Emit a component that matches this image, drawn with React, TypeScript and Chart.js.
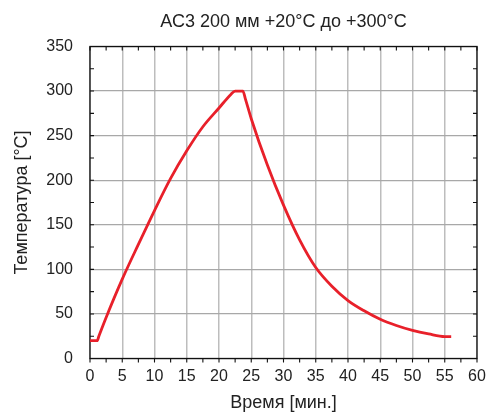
import React, { useEffect, useRef } from "react";
import { Chart, registerables } from "chart.js";

Chart.register(...registerables);

const chartTitle = "АС3 200 мм +20°C до +300°C";
const xAxisTitle = "Время [мин.]";
const yAxisTitle = "Температура [°C]";

const timeMin = [0, 1.1, 1.4, 2.5, 5, 7.5, 10, 12.5, 15, 17.5, 20, 21.8, 22.5, 23.7, 24.1, 25, 27.5, 30, 32.5, 35, 37.5, 40, 42.5, 45, 47.5, 50, 52.5, 55, 56];
const tempC = [20, 20, 25.5, 46, 89, 128, 166, 202, 233, 260, 281, 296, 300, 300, 291, 269, 217, 172, 133, 102, 81, 65, 53.5, 44, 37, 31.5, 27.5, 24.5, 24.5];

const xMin = 0, xMax = 60, xStep = 5, xMinor = 2.5;
const yMin = 0, yMax = 350, yStep = 50, yMinor = 25;

const FONT = "'Liberation Sans', Arial, Helvetica, sans-serif";
const TEXT = "#222";

const framePlugin = {
  id: "frame",
  beforeDatasetsDraw(chart: any) {
    const { ctx, chartArea: a, scales } = chart;
    const xs = scales.x, ys = scales.y;
    ctx.save();
    ctx.strokeStyle = "#111";
    ctx.lineWidth = 1.3;
    ctx.strokeRect(a.left, a.top, a.right - a.left, a.bottom - a.top);
    ctx.lineWidth = 1.1;
    const L = 4;
    ctx.beginPath();
    for (let v = xMin; v <= xMax + 1e-6; v += xMinor) {
      const px = xs.getPixelForValue(v);
      ctx.moveTo(px, a.bottom);
      ctx.lineTo(px, a.bottom + L);
      ctx.moveTo(px, a.top);
      ctx.lineTo(px, a.top + L);
    }
    for (let v = yMin; v <= yMax + 1e-6; v += yMinor) {
      const py = ys.getPixelForValue(v);
      ctx.moveTo(a.left, py);
      ctx.lineTo(a.left + L, py);
      ctx.moveTo(a.right, py);
      ctx.lineTo(a.right - L, py);
    }
    ctx.stroke();
    ctx.restore();
  },
};

export default function App() {
  const ref = useRef<HTMLCanvasElement>(null);
  useEffect(() => {
    if (!ref.current) return;
    const chart = new Chart(ref.current, {
      type: "line",
      data: {
        datasets: [
          {
            data: timeMin.map((t, i) => ({ x: t, y: tempC[i] })),
            borderColor: "#e8202a",
            borderWidth: 2.8,
            pointRadius: 0,
            fill: false,
            cubicInterpolationMode: "monotone",
          },
        ],
      },
      options: {
        responsive: false,
        animation: false,
        devicePixelRatio: 1,
        layout: { padding: { top: 0, right: 10, bottom: 0, left: 0 }, autoPadding: false },
        plugins: {
          legend: { display: false },
          tooltip: { enabled: false },
          title: {
            display: true,
            text: chartTitle,
            fullSize: false,
            color: TEXT,
            font: { family: FONT, size: 18, weight: "normal" },
            padding: { top: 11, bottom: 13.9 },
          },
        },
        scales: {
          x: {
            type: "linear",
            min: xMin,
            max: xMax,
            afterFit: (s: any) => { s.height = 55.5; s.paddingLeft = 0; s.paddingRight = 0; },
            ticks: { stepSize: xStep, color: TEXT, font: { family: FONT, size: 16 }, padding: 8, maxRotation: 0 },
            grid: { color: "#bdbdbd", lineWidth: 1.5, drawTicks: false },
            border: { display: false },
            title: { display: true, text: xAxisTitle, color: TEXT, font: { family: FONT, size: 18 }, padding: { top: 0, bottom: 0 } },
          },
          y: {
            type: "linear",
            min: yMin,
            max: yMax,
            afterFit: (s: any) => { s.width = 90; s.paddingTop = 0; s.paddingBottom = 0; },
            ticks: { stepSize: yStep, color: TEXT, font: { family: FONT, size: 16 }, padding: 17 },
            grid: { color: "#a8a8a8", lineWidth: 1.3, drawTicks: false },
            border: { display: false },
            title: { display: true, text: yAxisTitle, color: TEXT, font: { family: FONT, size: 18 }, padding: { top: 11.5, bottom: 0 } },
          },
        },
      },
      plugins: [framePlugin],
    } as any);
    return () => chart.destroy();
  }, []);
  return (
    <div style={{ position: "absolute", left: 0, top: 0, width: 487, height: 414, background: "#fff" }}>
      <canvas ref={ref} width={487} height={414} />
    </div>
  );
}
